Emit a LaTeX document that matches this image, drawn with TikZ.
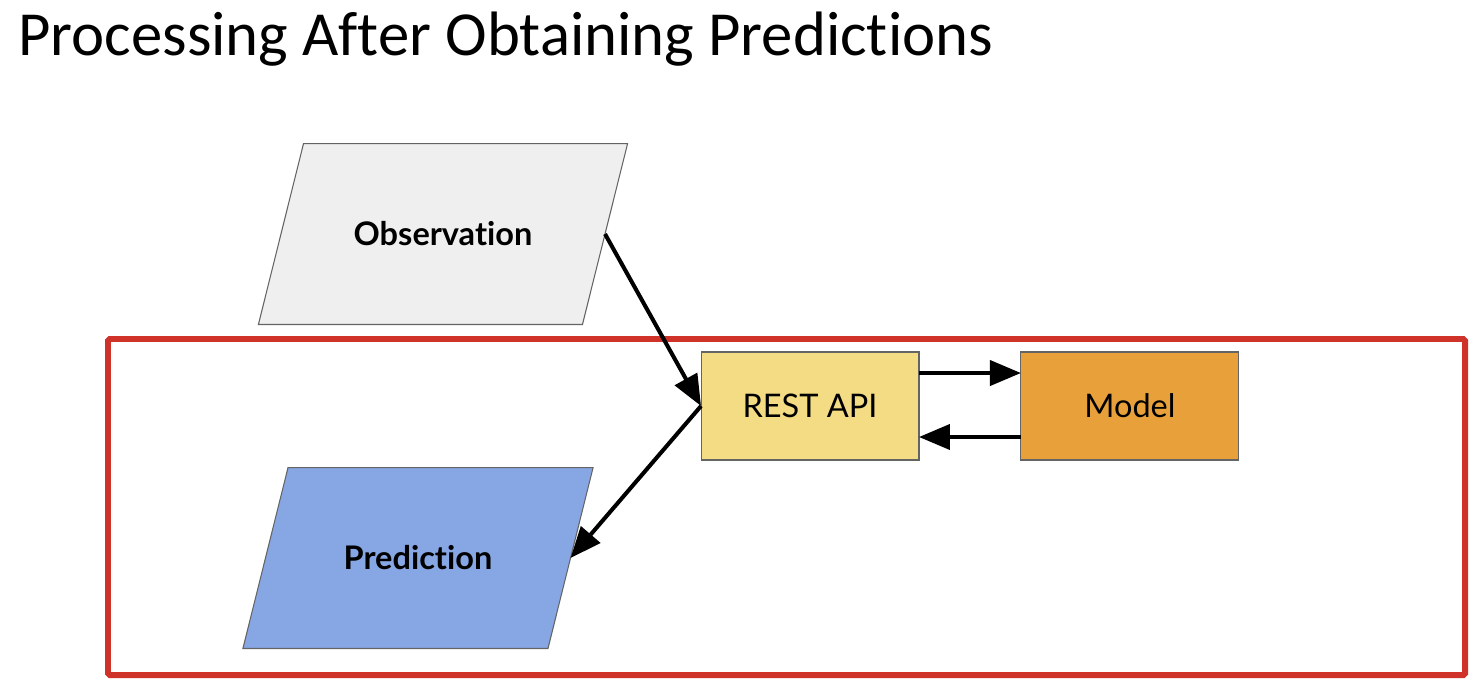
\documentclass[tikz,border=0pt]{standalone}
\usepackage{fontspec}
\setmainfont{Lato}[Ligatures=NoCommon]
\newfontfamily\titlefont{Carlito}[Ligatures=NoCommon]
\usetikzlibrary{arrows.meta,positioning,shapes.geometric}
\definecolor{my_gray}{RGB}{239,239,239}
\definecolor{my_blue}{RGB}{134,166,228}
\definecolor{my_yellow}{RGB}{244,220,132}
\definecolor{my_orange}{RGB}{232,161,58}
\definecolor{my_red}{RGB}{206,50,40}
\definecolor{my_edge}{RGB}{100,100,100}
\tikzset{
  datanode/.style  = {trapezium, trapezium left angle=76, trapezium right angle=104,
                      draw=my_edge, line width=0.6pt, outer sep=0pt,
                      text width=5.58cm, align=center, inner xsep=0pt, inner ysep=1.545cm,
                      text height=0.5cm, text depth=0.03cm,
                      font=\fontsize{18.5}{22}\selectfont\bfseries},
  procnode/.style  = {rectangle, draw=my_edge, line width=0.6pt, outer sep=0pt,
                      minimum width=4.36cm, minimum height=2.16cm,
                      font=\fontsize{18.5}{22}\selectfont},
  flow/.style      = {black, line width=2.3pt, -{Triangle[length=0.62cm,width=0.5cm]}},
  titlelbl/.style  = {font=\titlefont\fontsize{35.7}{40}\selectfont, inner sep=0pt}
}
\begin{document}
\begin{tikzpicture}[x=0.02cm, y=-0.02cm]
    \useasboundingbox (0,0) rectangle (1484,698);

    % ----- Title -----
    \node[titlelbl, anchor=base west] (title) at (18,55) {Processing After Obtaining Predictions};

    % ----- Frame round the processing part -----
    \draw[my_red, line width=3.4pt, rounded corners=1pt] (108,339) rectangle (1465,675);

    % ----- Nodes -----
    \node[datanode, fill=my_gray] (obs) at (443,234) {Observation};
    \node[datanode, fill=my_blue, text width=5.2cm] (pred) at (418,558) {Prediction};
    \node[procnode, fill=my_yellow] (api) at (810,406) {REST API};
    \node[procnode, fill=my_orange, right=2.04cm of api] (model) {Model};

    % ----- Connections -----
    \draw[flow] (obs.east) -- (api.west);
    \draw[flow] (api.west) -- (pred.east);
    \draw[flow] ([yshift=0.66cm]api.east) -- ([yshift=0.66cm]model.west);
    \draw[flow] ([yshift=-0.62cm]model.west) -- ([yshift=-0.62cm]api.east);
\end{tikzpicture}
\end{document}
